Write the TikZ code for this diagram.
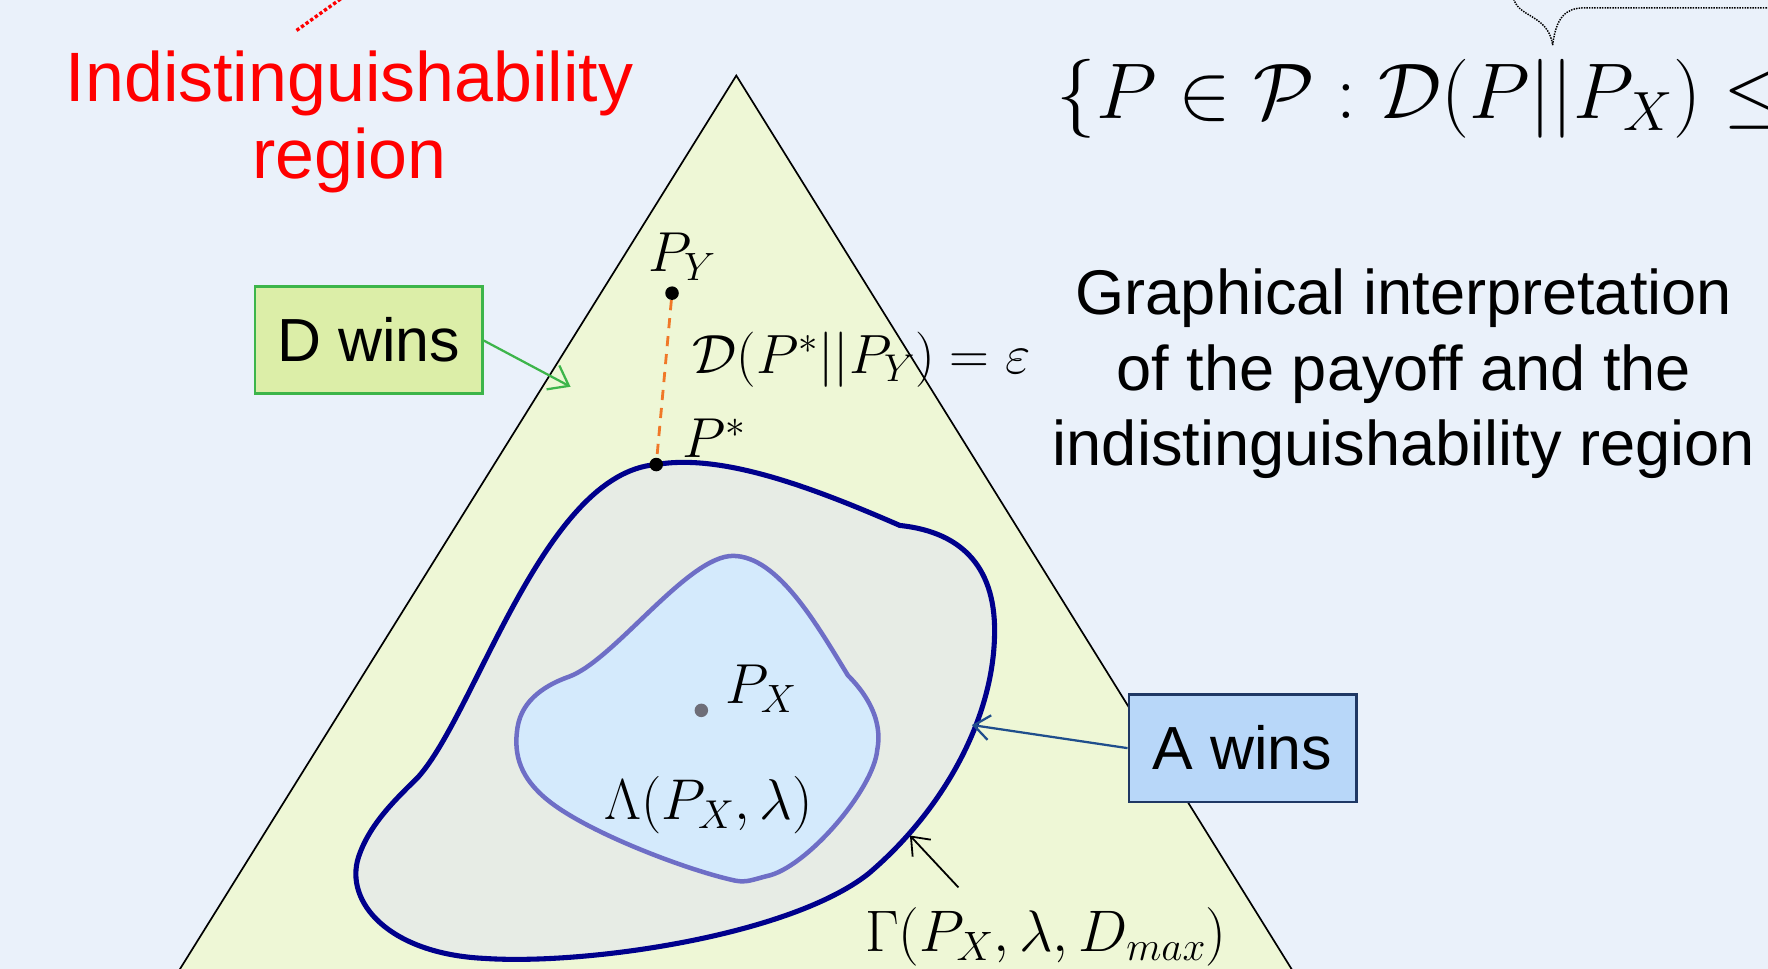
\RequirePackage{fix-cm}
\documentclass[tikz,border=0pt]{standalone}
\usepackage{fontspec}
\setmainfont{Liberation Sans}
\usetikzlibrary{arrows.meta}
\definecolor{bg}{RGB}{234,241,250}
\definecolor{trifill}{RGB}{238,247,214}
\definecolor{outfill}{RGB}{231,236,229}
\definecolor{outline}{RGB}{0,0,140}
\definecolor{infill}{RGB}{212,234,252}
\definecolor{inline}{RGB}{110,110,198}
\definecolor{orangeline}{RGB}{240,120,40}
\definecolor{dfill}{RGB}{220,238,168}
\definecolor{dline}{RGB}{61,181,74}
\definecolor{afill}{RGB}{184,215,249}
\definecolor{aline}{RGB}{31,56,100}
\definecolor{aarrow}{RGB}{31,78,140}
\definecolor{pxgray}{RGB}{110,110,120}
\tikzset{
  winbox/.style={draw, line width=2pt, minimum width=202pt, minimum height=95pt, inner sep=0pt, font=\fontsize{54}{60}\selectfont},
  mlabel/.style={inner sep=0pt, anchor=base west, font=\fontsize{50}{58}\selectfont},
  bigtext/.style={inner sep=0pt, anchor=base, font=\fontsize{56}{67}\selectfont},
  redtext/.style={inner sep=0pt, anchor=base, text=red, font=\fontsize{62}{69}\selectfont},
  dotpt/.style={circle, fill, inner sep=0pt, minimum size=12pt},
  barb/.style={-{Straight Barb[length=16pt,width=24pt]}},
}
\begin{document}
\begin{tikzpicture}[x=1pt,y=-1pt]
\path[use as bounding box, fill=bg] (0,0) rectangle (1568,859);
\begin{scope}
\clip (0,0) rectangle (1568,859);
% simplex
\draw[fill=trifill, line width=1.5pt] (653,67) -- (1180,915) -- (125,915) -- cycle;
% outer region Gamma
\draw[draw=outline, fill=outfill, line width=4.5pt] (582,412)
  .. controls (640,402) and (720,432) .. (798,466)
  .. controls (855,472) and (884,505) .. (882,565)
  .. controls (880,640) and (835,720) .. (770,775)
  .. controls (700,830) and (520,856) .. (430,850)
  .. controls (345,846) and (305,800) .. (318,760)
  .. controls (328,730) and (352,708) .. (371,689)
  .. controls (422,632) and (482,420) .. (582,412) -- cycle;
% inner region Lambda
\draw[draw=inline, fill=infill, line width=4pt] (650,493)
  .. controls (690,493) and (725,555) .. (752,599)
  .. controls (775,622) and (782,645) .. (778,665)
  .. controls (775,700) and (715,770) .. (680,777)
  .. controls (668,780) and (662,783) .. (652,781)
  .. controls (610,772) and (520,738) .. (485,709)
  .. controls (462,690) and (455,670) .. (459,645)
  .. controls (463,620) and (485,607) .. (505,600)
  .. controls (545,585) and (610,493) .. (650,493) -- cycle;
% red dotted pointer
\coordinate (redend) at (305,-3);
\coordinate (redstart) at (263,27);
\draw[red, dotted, line width=3pt] (redstart) -- (redend);
% dotted brace
\coordinate (bracetip) at (1377,40);
\coordinate (braceleft) at (1342,-3);
\coordinate (braceright) at (1572,7);
\draw[densely dotted, line width=1.3pt] (braceleft) .. controls (1345,16) and (1373,12) .. (bracetip);
\draw[densely dotted, line width=1.3pt] (bracetip) .. controls (1380,16) and (1388,7) .. (1405,7) -- (braceright);
\end{scope}
% points
\node[dotpt] (py) at (596,260) {};
\node[dotpt] (pstar) at (582,412) {};
\node[dotpt, fill=pxgray] (px) at (622,630) {};
\draw[orangeline, dashed, line width=2.5pt, dash pattern=on 9pt off 7pt] (py) -- (pstar);
% math labels
\node[mlabel] (lpy) at (575,241) {$P_Y$};
\node[mlabel] (lpstar) at (605,406) {$P^*$};
\node[mlabel, font=\fontsize{49}{58}\selectfont] (ldist) at (614,331) {$\mathcal{D}(P^*||P_Y)=\varepsilon$};
\node[mlabel] (lpx) at (643,624) {$P_X$};
\node[mlabel, font=\fontsize{51}{58}\selectfont] (llam) at (536,727) {$\Lambda(P_X,\lambda)$};
\node[mlabel, font=\fontsize{52}{58}\selectfont] (lgam) at (767,844) {$\Gamma(P_X,\lambda,D_{max})$};
\node[inner sep=0pt, anchor=base west, font=\fontsize{70}{80}\selectfont] (set) at (937,105) {$\{P\in\mathcal{P}:\mathcal{D}(P||P_X)\leq$};
% boxes
\node[winbox, fill=dfill, draw=dline] (dwins) at (327,301.5) {D wins};
\node[winbox, fill=afill, draw=aline] (awins) at (1102,663.5) {A wins};
\coordinate (dtip) at (506,343);
\coordinate (atip) at (862,643);
\coordinate (gtip) at (807,741);
\coordinate (gtail) at (850,787);
\draw[dline, line width=2pt, barb] (dwins.east |- 0,302) -- (dtip);
\draw[aarrow, line width=2pt, -{Straight Barb[length=14pt,width=22pt]}] (awins.west) -- (atip);
\draw[black, line width=1.6pt, -{Straight Barb[length=14pt,width=22pt]}] (gtail) -- (gtip);
% texts
\node[redtext] (red1) at (310,90) {Indistinguishability};
\node[redtext] (red2) at (310,158) {region};
\node[bigtext] (g1) at (1245,279) {Graphical interpretation};
\node[bigtext] (g2) at (1245,346) {of the payoff and the};
\node[bigtext] (g3) at (1245,413) {indistinguishability region};
\end{tikzpicture}
\end{document}
